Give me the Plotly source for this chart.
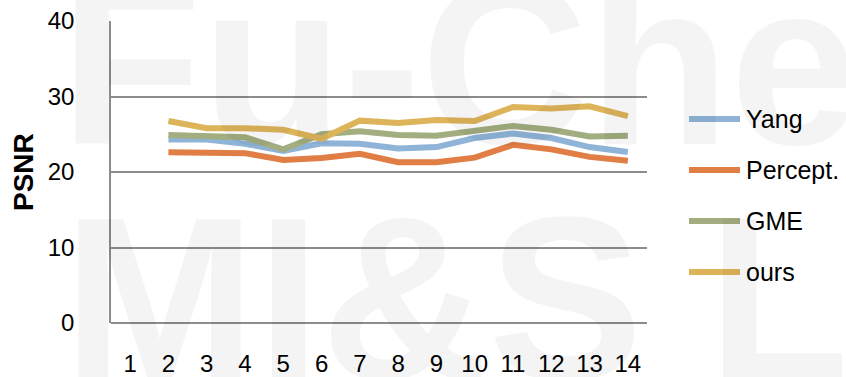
import plotly.graph_objects as go

# Frame index (1..14); frame 1 has no measurement
frames = [str(i) for i in range(1, 15)]

yang = [None, 24.3, 24.3, 23.75, 22.8, 23.8, 23.75, 23.1, 23.3, 24.5, 25.1, 24.5, 23.3, 22.65]
percept = [None, 22.6, 22.5, 22.5, 21.6, 21.85, 22.4, 21.3, 21.3, 21.9, 23.6, 23.0, 22.0, 21.5]
gme = [None, 24.9, 24.8, 24.6, 23.0, 25.0, 25.4, 24.9, 24.8, 25.4, 26.1, 25.6, 24.7, 24.8]
ours = [None, 26.75, 25.8, 25.8, 25.6, 24.4, 26.8, 26.5, 26.9, 26.75, 28.6, 28.4, 28.7, 27.4]

series_names = ["Yang", "Percept.", "GME", "ours"]
series_values = [yang, percept, gme, ours]
series_colors = ["#8FB4D8", "#E07E45", "#A2AD80", "#DEB45A"]

y_ticks = [0, 10, 20, 30, 40]

FONT = "Liberation Sans, Arial, sans-serif"
GRID = "#8C8C8C"

W_PX, H_PX = 846, 377
L, R, T, B = 111, 199, 21, 54
plot_w = W_PX - L - R
plot_h = H_PX - T - B


def px_x(p):
    return (p - L) / plot_w


def px_y(p):
    return (H_PX - B - p) / plot_h


fig = go.Figure()
for name, vals, col in zip(series_names, series_values, series_colors):
    fig.add_trace(go.Scatter(
        x=frames, y=vals, name=name, mode="lines",
        line=dict(color=col, width=6),
        connectgaps=False, showlegend=False,
    ))

annotations = []

# Faint background watermark
WM = 232
for txt, x0, base in [("Fu-Che", 58, 128), ("MI&S L", 61, 363)]:
    annotations.append(dict(text=f"<b>{txt}</b>", xref="paper", yref="paper",
                            x=px_x(x0), y=px_y(base + 0.29 * WM), xanchor="left", yanchor="bottom",
                            showarrow=False,
                            font=dict(family=FONT, size=WM, color="rgba(0,0,0,0.045)")))

# Legend drawn as line samples with labels to the right
legend_y = [119, 170, 221, 272]
shapes = []
for name, col, yy in zip(series_names, series_colors, legend_y):
    shapes.append(dict(type="line", xref="paper", yref="paper",
                       x0=px_x(689), x1=px_x(740), y0=px_y(yy), y1=px_y(yy),
                       line=dict(color=col, width=6)))
    annotations.append(dict(text=name, xref="paper", yref="paper",
                            x=px_x(744), y=px_y(yy), xanchor="left", yanchor="middle",
                            showarrow=False, font=dict(family=FONT, size=25, color="#000000")))

# Y-axis title
annotations.append(dict(text="<b>PSNR</b>", xref="paper", yref="paper",
                        x=px_x(23), y=px_y(172), xanchor="center", yanchor="middle",
                        textangle=-90, showarrow=False,
                        font=dict(family=FONT, size=28, color="#000000")))

fig.update_layout(
    width=W_PX, height=H_PX,
    margin=dict(l=L, r=R, t=T, b=B, pad=0, autoexpand=False),
    paper_bgcolor="white", plot_bgcolor="white",
    font=dict(family=FONT, size=24, color="#000000"),
    shapes=shapes, annotations=annotations,
    xaxis=dict(
        type="category", categoryorder="array", categoryarray=frames,
        range=[-0.5, 13.5], showgrid=False, zeroline=False, showline=False,
        ticks="", ticklabelstandoff=24, automargin=False,
        tickfont=dict(family=FONT, size=24, color="#000000"),
    ),
    yaxis=dict(
        range=[0, 40], tickvals=y_ticks, ticktext=[str(v) for v in y_ticks],
        showgrid=True, gridcolor=GRID, gridwidth=1.5,
        zeroline=True, zerolinecolor=GRID, zerolinewidth=1.5,
        showline=True, linecolor=GRID, linewidth=1.5,
        ticks="", ticklabelstandoff=30, automargin=False,
        tickfont=dict(family=FONT, size=24, color="#000000"),
    ),
)

fig.write_html("out.html")
